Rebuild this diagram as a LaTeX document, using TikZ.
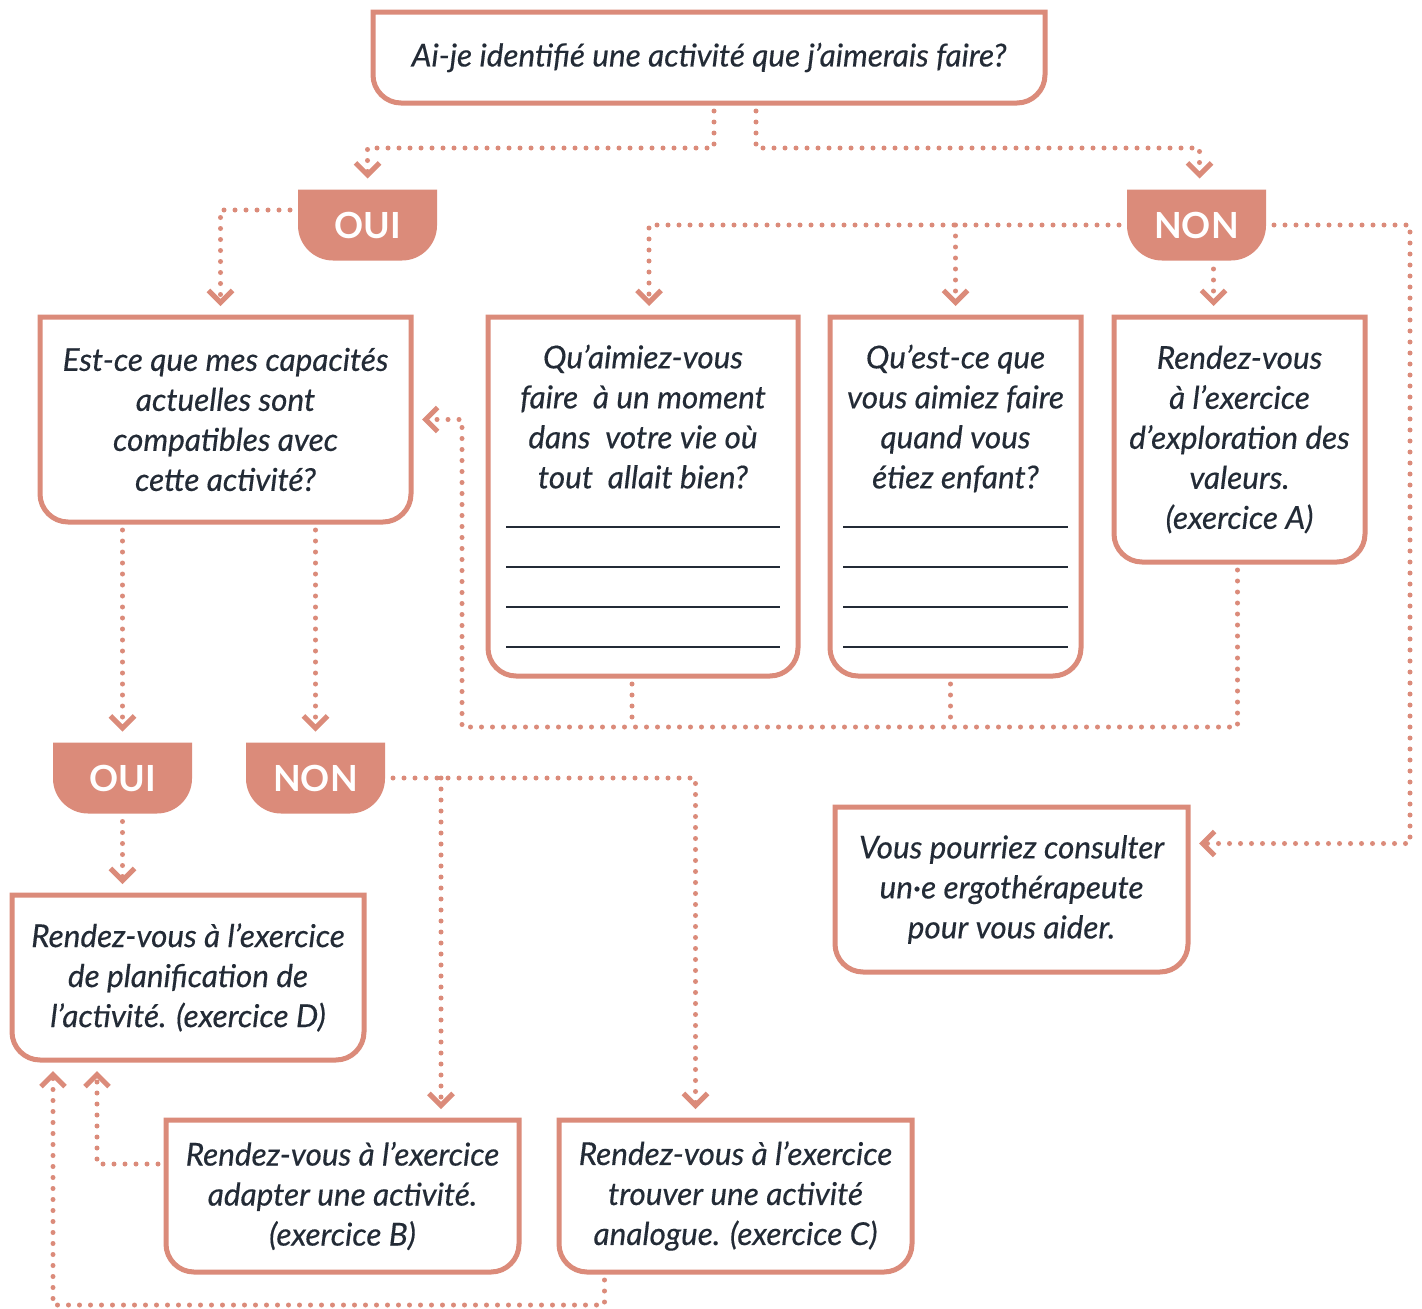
\documentclass[tikz,border=0pt]{standalone}
\usepackage{fontspec}
\setmainfont{Lato}[ItalicFeatures={FakeBold=0.4}]
\usetikzlibrary{arrows.meta,backgrounds}
\definecolor{salmon}{RGB}{219,139,122}
\definecolor{ink}{RGB}{35,43,54}
\newcommand{\bottomround}[2]{(#1.north west) -- ([yshift=#2pt]#1.south west) .. controls +(0,{0.55*#2}) and +({-0.55*#2},0) .. ([xshift=#2pt]#1.south west) -- ([xshift=-#2pt]#1.south east) .. controls +({0.55*#2},0) and +(0,{0.55*#2}) .. ([yshift=#2pt]#1.south east) -- (#1.north east) -- cycle}

\begin{document}
\begin{tikzpicture}[x=1pt,y=-1pt,
	box/.style={inner sep=0pt, outer sep=0pt, align=center, text=ink, font=\fontsize{31.5}{40}\selectfont\itshape},
	tab/.style={inner sep=0pt, outer sep=0pt, minimum width=139pt, minimum height=71pt, text=white, font=\fontsize{36}{40}\selectfont\bfseries},
	frame/.style={draw=salmon, line width=5pt},
	dots/.style={draw=salmon, line width=5pt, line cap=round, dash pattern=on 0pt off 11pt},
	gap/.style={shorten <=8pt},
	tip/.style={-{Straight Barb[length=12pt,width=24pt]}, shorten >=11pt}]
		\useasboundingbox (0,0) rectangle (1422,1309);

		\node[box, minimum width=672pt, minimum height=91pt] (top) at (709,57.5) {Ai-je identifié une activité que j’aimerais faire?};

		\node[tab] (oui1) at (367.5,225) {OUI};
		\node[tab] (non1) at (1196.5,225) {NON};

		\node[box, minimum width=371pt, minimum height=205pt] (est) at (225.5,419.5) {Est-ce que mes capacités\\actuelles sont\\compatibles avec\\cette activité?};
		\node[box, minimum width=310pt, minimum height=359pt] (qua) at (643,496.5) {Qu’aimiez-vous\\faire~ à un moment\\dans~ votre vie où\\tout~ allait bien?\\\rule{274pt}{2pt}\\\rule{274pt}{2pt}\\\rule{274pt}{2pt}\\\rule{274pt}{2pt}};
		\node[box, minimum width=251pt, minimum height=359pt] (que) at (955.5,496.5) {Qu’est-ce que\\vous aimiez faire\\quand vous\\étiez enfant?\\\rule{225pt}{2pt}\\\rule{225pt}{2pt}\\\rule{225pt}{2pt}\\\rule{225pt}{2pt}};
		\node[box, minimum width=251pt, minimum height=245pt] (exA) at (1239.5,439.5) {Rendez-vous\\à l’exercice\\d’exploration des\\valeurs.\\(exercice A)};

		\node[tab] (oui2) at (122.5,778) {OUI};
		\node[tab] (non2) at (315.5,778) {NON};

		\node[box, minimum width=352pt, minimum height=165pt] (exD) at (188,977.5) {Rendez-vous à l’exercice\\de planification de\\l’activité. (exercice D)};
		\node[box, minimum width=353pt, minimum height=165pt] (ergo) at (1011.5,889.5) {Vous pourriez consulter\\un·e ergothérapeute\\pour vous aider.};
		\node[box, minimum width=353pt, minimum height=152pt] (exB) at (342.5,1196) {Rendez-vous à l’exercice\\adapter une activité.\\(exercice B)};
		\node[box, minimum width=353pt, minimum height=152pt] (exC) at (735.5,1196) {Rendez-vous à l’exercice\\trouver une activité\\analogue. (exercice C)};

		\begin{pgfonlayer}{background}
			\fill[white] (0,0) rectangle (1422,1309);
			\foreach \n in {oui1,non1,oui2,non2}
				\fill[salmon] \bottomround{\n}{35};
		\end{pgfonlayer}
		\foreach \n in {top,est,qua,que,exA,exD,ergo,exB,exC}
			\draw[frame] \bottomround{\n}{28};

		\draw[dots,gap,tip] ([xshift=5pt]top.south) -- ++(0,45) -| (oui1.north);
		\draw[dots,gap,tip] ([xshift=47pt]top.south) -- ++(0,45) -| ([xshift=3pt]non1.north);

		\draw[dots,gap,tip] ([yshift=15pt]oui1.west) -| ([xshift=-5pt]est.north);
		\draw[dots,gap,tip] (non1.west) -| ([xshift=6pt]qua.north);
		\draw[dots,tip] (que.north |- non1.west) -- (que.north);
		\draw[dots,gap,tip] ([xshift=-26pt,yshift=56pt]exA.north) -- ([xshift=-26pt]exA.north);
		\draw[dots,gap,tip] (non1.east) -- ++(144,0) |- ([yshift=46pt]ergo.east);

		\draw[dots,gap] ([xshift=-11pt]qua.south) -- ++(0,51);
		\draw[dots,gap] ([xshift=-5pt]que.south) -- ++(0,51);
		\draw[dots,gap,tip] ([xshift=-2pt]exA.south) -- ++(0,165) -| ([xshift=51pt]est.east) -- (est.east);

		\draw[dots,gap,tip] (est.south -| oui2.north) -- (oui2.north);
		\draw[dots,gap,tip] (est.south -| non2.north) -- (non2.north);
		\draw[dots,gap,tip] (oui2.south) -- (oui2.south |- exD.north);

		\coordinate (fork) at (441,778);
		\draw[dots,gap,tip] (non2.east) -| ([xshift=-40pt]exC.north);
		\draw[dots,tip] (fork) -- (fork |- exB.north);

		\draw[dots,gap,tip] ([yshift=32pt]exB.west) -| ([xshift=-91pt]exD.south);
		\draw[dots,gap,tip] ([xshift=-131pt]exC.south) -- ++(0,33) -| ([xshift=-135pt]exD.south);
\end{tikzpicture}
\end{document}
